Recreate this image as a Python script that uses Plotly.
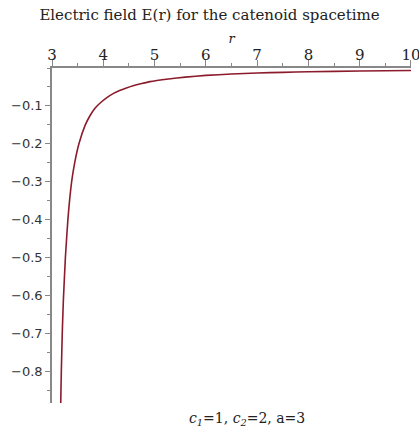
import plotly.graph_objects as go

# Data
r_vals = [3.170, 3.181, 3.200, 3.221, 3.261, 3.311, 3.383, 3.441, 3.525, 3.643,
          3.740, 3.838, 3.950, 4.070, 4.200, 4.330, 4.450, 4.580, 4.750, 4.910,
          5.270, 5.600, 6.000, 6.500, 7.000, 7.500, 8.000, 9.000, 10.000]
E_vals = [-0.886, -0.805, -0.700, -0.615, -0.500, -0.398, -0.300, -0.251, -0.200, -0.152,
          -0.126, -0.106, -0.091, -0.078, -0.067, -0.059, -0.053, -0.047, -0.041, -0.036,
          -0.029, -0.024, -0.0195, -0.016, -0.013, -0.0115, -0.010, -0.008, -0.0065]

x_ticks = [3, 4, 5, 6, 7, 8, 9, 10]
y_ticks = [-0.1, -0.2, -0.3, -0.4, -0.5, -0.6, -0.7, -0.8]
y_ticklabels = ["−0.1", "−0.2", "−0.3", "−0.4", "−0.5", "−0.6", "−0.7", "−0.8"]

title_text = "Electric field E(r) for the catenoid spacetime"
caption_text = "<i>c</i><sub><i>1</i></sub>=1, <i>c</i><sub><i>2</i></sub>=2, a=3"

fig = go.Figure()
fig.add_trace(go.Scatter(
    x=r_vals, y=E_vals, mode="lines",
    line=dict(color="#8c1c2c", width=1.6, shape="spline", smoothing=0.4),
    showlegend=False, hoverinfo="skip"))

serif = "DejaVu Serif"
sans = "DejaVu Sans"

fig.update_layout(
    width=419, height=432,
    margin=dict(l=52, r=8, t=68, b=29, autoexpand=False),
    paper_bgcolor="white", plot_bgcolor="white",
    title=dict(text=title_text, x=0.5, xref="container", xanchor="center",
               y=1 - 15/432, yref="container", yanchor="middle",
               font=dict(family=serif, size=15, color="#222")),
    xaxis=dict(range=[2.9999, 10.0002], side="top", showline=True, linecolor="#888",
               linewidth=1.5, showgrid=False, zeroline=False, automargin=False,
               tickmode="array", tickvals=x_ticks,
               ticks="outside", ticklen=6, tickcolor="#888", tickwidth=1,
               ticklabeloverflow="allow", ticklabelstandoff=-6,
               tickfont=dict(family=serif, size=15, color="#222"),
               minor=dict(dtick=0.5, ticklen=3, tickcolor="#888", ticks="outside"),
               title=dict(text="<i>r</i>", font=dict(family=serif, size=13, color="#222"),
                          standoff=0)),
    yaxis=dict(range=[-0.884, 0], showline=True, linecolor="#888",
               linewidth=1.5, showgrid=False, zeroline=False, automargin=False,
               tickmode="array", tickvals=y_ticks, ticktext=y_ticklabels,
               ticks="outside", ticklen=5, tickcolor="#888", tickwidth=1,
               tickfont=dict(family=sans, size=13, color="#333"),
               minor=dict(dtick=0.05, tick0=0, ticklen=3, tickcolor="#888", ticks="outside")),
    annotations=[dict(text=caption_text, xref="paper", yref="paper",
                      x=(247 - 52) / 359, y=-(419 - 403) / 335,
                      xanchor="center", yanchor="middle", showarrow=False,
                      font=dict(family=serif, size=14, color="#222"))],
)

fig.write_html("out.html")
